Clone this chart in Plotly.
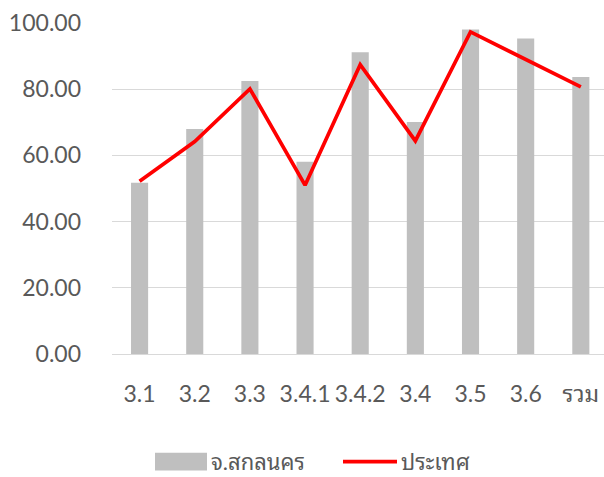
import plotly.graph_objects as go

# Categories and series values
categories = ["3.1", "3.2", "3.3", "3.4.1", "3.4.2", "3.4", "3.5", "3.6", "รวม"]
province_values = [51.7, 68.0, 82.5, 58.1, 91.2, 70.1, 98.0, 95.3, 83.7]
country_values = [52.2, 64.2, 80.1, 51.0, 87.4, 64.4, 97.3, 89.1, 80.7]
y_ticks = [0, 20, 40, 60, 80, 100]
y_tick_labels = ["0.00", "20.00", "40.00", "60.00", "80.00", "100.00"]

province_name = "จ.สกลนคร"
country_name = "ประเทศ"

BAR_COLOR = "#bfbfbf"
LINE_COLOR = "#ff0000"
TEXT_COLOR = "#595959"
GRID_COLOR = "#d9d9d9"
FONT = "Lato, 'Noto Sans Thai Looped', 'Noto Sans Thai', 'Noto Sans', sans-serif"

fig = go.Figure()
fig.add_trace(go.Bar(
    x=categories, y=province_values, name=province_name,
    marker=dict(color=BAR_COLOR, line=dict(width=0)),
    width=0.31, showlegend=False,
))
fig.add_trace(go.Scatter(
    x=categories, y=country_values, name=country_name, mode="lines",
    line=dict(color=LINE_COLOR, width=3.7),
    showlegend=False,
))

# Legend drawn below the plot: wide grey swatch and red line sample
legend_y = -0.325
fig.add_shape(type="rect", xref="paper", yref="paper",
              x0=(155 - 112) / 492, x1=(207 - 112) / 492,
              y0=legend_y - 0.027, y1=legend_y + 0.027,
              fillcolor=BAR_COLOR, line=dict(width=0))
fig.add_annotation(xref="paper", yref="paper", x=(209 - 112) / 492, y=legend_y,
                   text=province_name, showarrow=False, xanchor="left", yanchor="middle",
                   font=dict(family=FONT, size=22, color=TEXT_COLOR))
fig.add_shape(type="line", xref="paper", yref="paper",
              x0=(343 - 112) / 492, x1=(397 - 112) / 492,
              y0=legend_y, y1=legend_y,
              line=dict(color=LINE_COLOR, width=3.7))
fig.add_annotation(xref="paper", yref="paper", x=(399 - 112) / 492, y=legend_y,
                   text=country_name, showarrow=False, xanchor="left", yanchor="middle",
                   font=dict(family=FONT, size=22, color=TEXT_COLOR))

fig.update_layout(
    width=604, height=477,
    margin=dict(l=112, r=0, t=23, b=123),
    plot_bgcolor="white", paper_bgcolor="white",
    font=dict(family=FONT, size=23, color=TEXT_COLOR),
    bargap=0.69,
)
fig.update_xaxes(
    type="category", range=[-0.5, 8.42],
    showgrid=False, zeroline=False, showline=False,
    ticks="", ticklabelstandoff=24,
    tickfont=dict(family=FONT, size=23, color=TEXT_COLOR),
)
fig.update_yaxes(
    range=[0, 100], tickvals=y_ticks, ticktext=y_tick_labels,
    showgrid=True, gridcolor=GRID_COLOR, gridwidth=1.3,
    zeroline=True, zerolinecolor=GRID_COLOR, zerolinewidth=1.3,
    showline=False, ticks="", ticklabelstandoff=30,
    tickfont=dict(family=FONT, size=23, color=TEXT_COLOR),
)

fig.write_html("out.html")
